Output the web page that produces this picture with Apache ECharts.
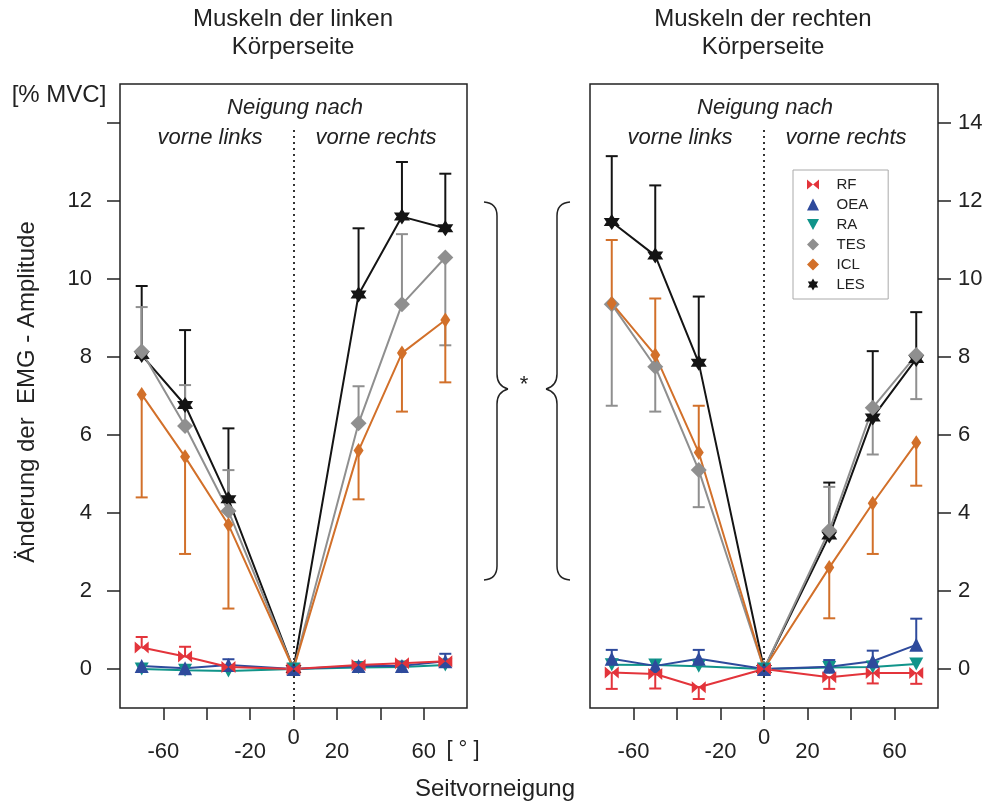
<!DOCTYPE html>
<html>
<head>
<meta charset="utf-8">
<title>EMG Amplitude</title>
<script src="https://cdn.jsdelivr.net/npm/echarts@6/dist/echarts.min.js"></script>
<style>
    html, body { margin: 0; padding: 0; background: #fff; }
    #chart1 { width: 995px; height: 807px; }
</style>
</head>
<body>
<div id="chart1"></div>
<script>
// Seitvorneigung in Grad
var angles = [-70, -50, -30, 0, 30, 50, 70];
var xTicks = [-60, -40, -20, 0, 20, 40, 60];
var xLabels = [-60, -20, 0, 20, 60];
var yTicks = [0, 2, 4, 6, 8, 10, 12, 14];
var muscles = ['RF', 'OEA', 'RA', 'TES', 'ICL', 'LES'];

// Muskeln der linken Koerperseite (Mittelwert, Ende Fehlerbalken)
var leftRF = [0.55, 0.32, 0.05, 0, 0.1, 0.15, 0.2];
var leftRFErr = [0.82, 0.57, null, null, null, null, null];
var leftOEA = [0.08, 0.02, 0.1, 0, 0.08, 0.08, 0.2];
var leftOEAErr = [null, null, 0.25, null, null, null, 0.39];
var leftRA = [0.0, -0.03, -0.05, 0, 0.04, 0.05, 0.1];
var leftRAErr = [null, null, null, null, null, null, null];
var leftTES = [8.14, 6.23, 4.05, 0, 6.3, 9.35, 10.55];
var leftTESErr = [9.28, 7.28, 5.1, null, 7.25, 11.15, 8.3];
var leftICL = [7.04, 5.44, 3.7, 0, 5.6, 8.1, 8.95];
var leftICLErr = [4.4, 2.95, 1.55, null, 4.35, 6.6, 7.35];
var leftLES = [8.05, 6.77, 4.35, 0, 9.6, 11.6, 11.3];
var leftLESErr = [9.82, 8.69, 6.17, null, 11.3, 13.0, 12.7];

// Muskeln der rechten Koerperseite
var rightRF = [-0.09, -0.13, -0.47, 0, -0.21, -0.1, -0.1];
var rightRFErr = [-0.51, -0.5, -0.77, null, -0.51, -0.37, -0.38];
var rightOEA = [0.26, 0.08, 0.26, 0, 0.06, 0.2, 0.62];
var rightOEAErr = [0.49, null, 0.49, null, 0.23, 0.47, 1.29];
var rightRA = [0.11, 0.1, 0.07, 0, 0.04, 0.05, 0.13];
var rightRAErr = [null, null, null, null, null, null, null];
var rightTES = [9.35, 7.75, 5.1, 0, 3.55, 6.7, 8.05];
var rightTESErr = [6.75, 6.6, 4.15, null, 4.67, 5.5, 6.92];
var rightICL = [9.38, 8.05, 5.55, 0, 2.6, 4.25, 5.8];
var rightICLErr = [11.0, 9.5, 6.75, null, 1.3, 2.95, 4.7];
var rightLES = [11.46, 10.6, 7.85, 0, 3.42, 6.45, 7.95];
var rightLESErr = [13.15, 12.4, 9.55, null, 4.78, 8.15, 9.15];

window.onload = function () {
    drawChart1();
};

function drawChart1() {
    var dom1 = document.getElementById("chart1");
    var myChart1 = echarts.init(dom1);
    var font = 'Liberation Sans, Arial, sans-serif';

    var colors = {
        RF: '#e3343b',
        OEA: '#2e4a9c',
        RA: '#10948a',
        TES: '#8f8f8f',
        ICL: '#d2702a',
        LES: '#141414'
    };
    var symbols = {
        RF: 'path://M0,0L6,5L0,10ZM12,0L6,5L12,10Z',
        OEA: 'triangle',
        RA: 'path://M0,0L10,0L5,9Z',
        TES: 'diamond',
        ICL: 'diamond',
        LES: 'path://M5,0L9.33,7.5L0.67,7.5ZM5,10L0.67,2.5L9.33,2.5Z'
    };
    var sizes = {
        RF: [14, 12],
        OEA: 14,
        RA: [14, 13],
        TES: 16,
        ICL: [10, 15],
        LES: 16
    };
    var panels = [
        {RF: [leftRF, leftRFErr], OEA: [leftOEA, leftOEAErr], RA: [leftRA, leftRAErr],
         TES: [leftTES, leftTESErr], ICL: [leftICL, leftICLErr], LES: [leftLES, leftLESErr]},
        {RF: [rightRF, rightRFErr], OEA: [rightOEA, rightOEAErr], RA: [rightRA, rightRAErr],
         TES: [rightTES, rightTESErr], ICL: [rightICL, rightICLErr], LES: [rightLES, rightLESErr]}
    ];
    // Zeichenreihenfolge (zuletzt oben)
    var drawOrder = ['LES', 'TES', 'ICL', 'RA', 'OEA', 'RF'];

    function errorBar(params, api) {
        var x = api.value(0);
        var from = api.coord([x, api.value(1)]);
        var to = api.coord([x, api.value(2)]);
        var w = 6;
        var style = {stroke: api.visual('color'), lineWidth: 2};
        return {
            type: 'group',
            children: [
                {type: 'line', shape: {x1: from[0], y1: from[1], x2: to[0], y2: to[1]}, style: style},
                {type: 'line', shape: {x1: to[0] - w, y1: to[1], x2: to[0] + w, y2: to[1]}, style: style}
            ]
        };
    }

    var series = [];
    for (var p = 0; p < 2; p++) {
        drawOrder.forEach(function (m) {
            var mean = panels[p][m][0];
            var err = panels[p][m][1];
            var errData = [];
            for (var i = 0; i < angles.length; i++) {
                if (err[i] !== null) {
                    errData.push([angles[i], mean[i], err[i]]);
                }
            }
            series.push({
                name: m,
                type: 'custom',
                xAxisIndex: p,
                yAxisIndex: p,
                renderItem: errorBar,
                itemStyle: {color: colors[m]},
                encode: {x: 0, y: [1, 2]},
                data: errData,
                z: 2,
                silent: true
            });
        });
        drawOrder.forEach(function (m) {
            var mean = panels[p][m][0];
            series.push({
                name: m,
                type: 'line',
                xAxisIndex: p,
                yAxisIndex: p,
                symbol: symbols[m],
                symbolSize: sizes[m],
                showAllSymbol: true,
                itemStyle: {color: colors[m], opacity: 1},
                lineStyle: {color: colors[m], width: 2},
                data: angles.map(function (a, i) { return [a, mean[i]]; }),
                z: 3
            });
        });
        // gepunktete Nulllinie
        series.push({
            type: 'line',
            xAxisIndex: p,
            yAxisIndex: p,
            data: [],
            markLine: {
                silent: true,
                symbol: 'none',
                label: {show: false},
                lineStyle: {type: [2, 4], color: '#333', width: 2},
                data: [[{coord: [0, -1]}, {coord: [0, 13.87]}]]
            }
        });
    }

    function xAxisOf(idx) {
        return {
            type: 'value',
            gridIndex: idx,
            min: -80,
            max: 80,
            interval: 20,
            splitLine: {show: false},
            axisLine: {show: false, onZero: false},
            axisTick: {
                show: true,
                length: 12,
                customValues: xTicks,
                lineStyle: {color: '#222', width: 1.5}
            },
            axisLabel: {
                customValues: xLabels,
                margin: 19,
                color: '#222',
                fontFamily: font,
                fontSize: 22,
                formatter: function (v) {
                    return v === 0 ? '{z|0}' : '{n|' + v + '}';
                },
                rich: {
                    z: {fontSize: 22, fontFamily: font, color: '#222'},
                    n: {fontSize: 22, fontFamily: font, color: '#222', padding: [14, 0, 0, 0]}
                }
            }
        };
    }

    function yAxisOf(idx, pos, labelMax) {
        return {
            type: 'value',
            gridIndex: idx,
            position: pos,
            min: -1,
            max: 15,
            interval: 1,
            splitLine: {show: false},
            axisLine: {show: false, onZero: false},
            axisTick: {
                show: true,
                length: 13,
                customValues: yTicks,
                lineStyle: {color: '#222', width: 1.5}
            },
            axisLabel: {
                customValues: yTicks.filter(function (v) { return v <= labelMax; }),
                margin: pos === 'left' ? 28 : 20,
                color: '#222',
                fontFamily: font,
                fontSize: 22
            }
        };
    }

    var txt = function (text, x, y, extra) {
        var style = {
            text: text,
            x: x,
            y: y,
            fill: '#222',
            font: '22px ' + font,
            textAlign: 'center',
            textVerticalAlign: 'middle'
        };
        for (var k in extra) { style[k] = extra[k]; }
        return {type: 'text', silent: true, style: style};
    };
    var italic = {font: 'italic 22px ' + font};
    var big = {font: '24px ' + font};

    // geschweifte Klammer: xv = senkrechte Linie, d = Richtung der Spitze
    function brace(xv, d) {
        var st = {stroke: '#222', lineWidth: 1.5, fill: null};
        var top = 202, mid = 389, bot = 580;
        var parts = [
            {type: 'bezierCurve', shape: {x1: xv - 13 * d, y1: top, cpx1: xv, cpy1: top + 1, x2: xv, y2: top + 14}},
            {type: 'line', shape: {x1: xv, y1: top + 14, x2: xv, y2: mid - 15}},
            {type: 'bezierCurve', shape: {x1: xv, y1: mid - 15, cpx1: xv, cpy1: mid - 3, x2: xv + 11 * d, y2: mid}},
            {type: 'bezierCurve', shape: {x1: xv + 11 * d, y1: mid, cpx1: xv, cpy1: mid + 3, x2: xv, y2: mid + 15}},
            {type: 'line', shape: {x1: xv, y1: mid + 15, x2: xv, y2: bot - 14}},
            {type: 'bezierCurve', shape: {x1: xv, y1: bot - 14, cpx1: xv, cpy1: bot - 1, x2: xv - 13 * d, y2: bot}}
        ];
        parts.forEach(function (pt) { pt.style = st; pt.silent = true; });
        return {type: 'group', children: parts};
    }

    option = null;
    option = {
        animation: false,
        textStyle: {fontFamily: font},
        grid: [
            {left: 120, top: 84, width: 347, height: 624, show: true,
             borderColor: '#222', borderWidth: 1.5, containLabel: false},
            {left: 590, top: 84, width: 348, height: 624, show: true,
             borderColor: '#222', borderWidth: 1.5, containLabel: false}
        ],
        xAxis: [xAxisOf(0), xAxisOf(1)],
        yAxis: [yAxisOf(0, 'left', 12), yAxisOf(1, 'right', 14)],
        legend: {
            orient: 'vertical',
            left: 793,
            top: 170,
            itemWidth: 12,
            itemHeight: 12,
            itemGap: 5,
            padding: [7, 20, 7, 14],
            borderColor: '#aaa',
            borderWidth: 1,
            backgroundColor: '#fff',
            textStyle: {fontSize: 15, color: '#222', fontFamily: font},
            formatter: function (name) { return '   ' + name; },
            data: muscles.map(function (m) {
                return {name: m, icon: symbols[m], itemStyle: {color: colors[m]}};
            })
        },
        graphic: [
            txt('Muskeln der linken', 293, 19, big),
            txt('Körperseite', 293, 47, big),
            txt('Muskeln der rechten', 763, 19, big),
            txt('Körperseite', 763, 47, big),
            txt('[% MVC]', 59, 95, big),
            txt('Seitvorneigung', 495, 789, big),
            txt('[ ° ]', 463, 750),
            txt('*', 524, 385),
            txt('Neigung nach', 295, 108, italic),
            txt('vorne links', 210, 138, italic),
            txt('vorne rechts', 376, 138, italic),
            txt('Neigung nach', 765, 108, italic),
            txt('vorne links', 680, 138, italic),
            txt('vorne rechts', 846, 138, italic),
            {
                type: 'text',
                silent: true,
                x: 27,
                y: 392,
                rotation: Math.PI / 2,
                style: {
                    text: 'Änderung der  EMG - Amplitude',
                    fill: '#222',
                    font: '24px ' + font,
                    textAlign: 'center',
                    textVerticalAlign: 'middle'
                }
            },
            brace(497, 1),
            brace(557, -1)
        ],
        series: series
    };
    if (option && typeof option === "object") {
        myChart1.setOption(option, true);
        window.onresize = myChart1.resize;
    }
}
</script>
</body>
</html>
